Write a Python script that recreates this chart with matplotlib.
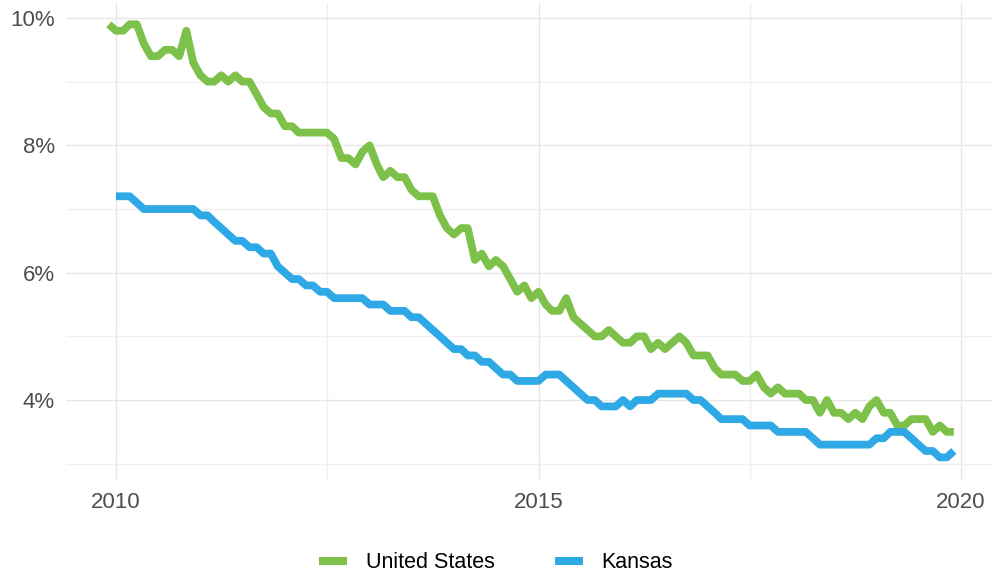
import matplotlib
matplotlib.use("Agg")
import matplotlib.pyplot as plt
from matplotlib.lines import Line2D
from matplotlib.ticker import MultipleLocator, FuncFormatter
import numpy as np
import pandas as pd

plt.rcParams['font.family'] = ['Liberation Sans', 'DejaVu Sans']

# monthly unemployment rate (%), US from Dec 2009, Kansas from Jan 2010
us_start = "2009-12-01"
us_rate = [
    9.9,
    9.8, 9.8, 9.9, 9.9, 9.6, 9.4, 9.4, 9.5, 9.5, 9.4, 9.8, 9.3,
    9.1, 9.0, 9.0, 9.1, 9.0, 9.1, 9.0, 9.0, 8.8, 8.6, 8.5, 8.5,
    8.3, 8.3, 8.2, 8.2, 8.2, 8.2, 8.2, 8.1, 7.8, 7.8, 7.7, 7.9,
    8.0, 7.7, 7.5, 7.6, 7.5, 7.5, 7.3, 7.2, 7.2, 7.2, 6.9, 6.7,
    6.6, 6.7, 6.7, 6.2, 6.3, 6.1, 6.2, 6.1, 5.9, 5.7, 5.8, 5.6,
    5.7, 5.5, 5.4, 5.4, 5.6, 5.3, 5.2, 5.1, 5.0, 5.0, 5.1, 5.0,
    4.9, 4.9, 5.0, 5.0, 4.8, 4.9, 4.8, 4.9, 5.0, 4.9, 4.7, 4.7,
    4.7, 4.5, 4.4, 4.4, 4.4, 4.3, 4.3, 4.4, 4.2, 4.1, 4.2, 4.1,
    4.1, 4.1, 4.0, 4.0, 3.8, 4.0, 3.8, 3.8, 3.7, 3.8, 3.7, 3.9,
    4.0, 3.8, 3.8, 3.6, 3.6, 3.7, 3.7, 3.7, 3.5, 3.6, 3.5, 3.5,
]
ks_start = "2010-01-01"
ks_rate = [
    7.2, 7.2, 7.2, 7.1, 7.0, 7.0, 7.0, 7.0, 7.0, 7.0, 7.0, 7.0,
    6.9, 6.9, 6.8, 6.7, 6.6, 6.5, 6.5, 6.4, 6.4, 6.3, 6.3, 6.1,
    6.0, 5.9, 5.9, 5.8, 5.8, 5.7, 5.7, 5.6, 5.6, 5.6, 5.6, 5.6,
    5.5, 5.5, 5.5, 5.4, 5.4, 5.4, 5.3, 5.3, 5.2, 5.1, 5.0, 4.9,
    4.8, 4.8, 4.7, 4.7, 4.6, 4.6, 4.5, 4.4, 4.4, 4.3, 4.3, 4.3,
    4.3, 4.4, 4.4, 4.4, 4.3, 4.2, 4.1, 4.0, 4.0, 3.9, 3.9, 3.9,
    4.0, 3.9, 4.0, 4.0, 4.0, 4.1, 4.1, 4.1, 4.1, 4.1, 4.0, 4.0,
    3.9, 3.8, 3.7, 3.7, 3.7, 3.7, 3.6, 3.6, 3.6, 3.6, 3.5, 3.5,
    3.5, 3.5, 3.5, 3.4, 3.3, 3.3, 3.3, 3.3, 3.3, 3.3, 3.3, 3.3,
    3.4, 3.4, 3.5, 3.5, 3.5, 3.4, 3.3, 3.2, 3.2, 3.1, 3.1, 3.2,
]
series_names = ["United States", "Kansas"]
colors = ["#7DC14B", "#2EA9E6"]

us_dates = pd.date_range(us_start, periods=len(us_rate), freq="MS")
ks_dates = pd.date_range(ks_start, periods=len(ks_rate), freq="MS")

fig = plt.figure(figsize=(9.92, 5.73), dpi=100)
ax = fig.add_axes([66 / 992, 1 - 479 / 573, 926 / 992, (479 - 2.7) / 573])

ax.plot(us_dates, us_rate, color=colors[0], lw=5.6, solid_joinstyle="round",
        solid_capstyle="butt", zorder=3)
ax.plot(ks_dates, ks_rate, color=colors[1], lw=5.6, solid_joinstyle="round",
        solid_capstyle="butt", zorder=3)

# x limits: 2010 at px 116, 2020 at px 961
t0 = pd.Timestamp("2010-01-01")
px_per_day = (961 - 116) / (pd.Timestamp("2020-01-01") - t0).days
ax.set_xlim(t0 - pd.Timedelta(days=50 / px_per_day),
            t0 + pd.Timedelta(days=(992 - 116) / px_per_day))
ax.set_ylim(2.76, 10.24)

major_x = [pd.Timestamp(f"{y}-01-01") for y in (2010, 2015, 2020)]
minor_x = [pd.Timestamp("2012-07-02"), pd.Timestamp("2017-07-02")]
ax.set_xticks(major_x)
ax.set_xticklabels(["2010", "2015", "2020"])
ax.set_xticks(minor_x, minor=True)
ax.yaxis.set_major_locator(MultipleLocator(2))
ax.yaxis.set_minor_locator(MultipleLocator(1))
ax.yaxis.set_major_formatter(FuncFormatter(lambda v, p: f"{v:.0f}%"))

ax.grid(True, which="major", color="#E6E6E6", lw=1.0)
ax.grid(True, which="minor", color="#EFEFEF", lw=0.9)
ax.set_axisbelow(True)
for s in ax.spines.values():
    s.set_visible(False)
ax.tick_params(which="both", length=0)
ax.tick_params(axis="x", labelsize=16, labelcolor="#4D4D4D", pad=9)
ax.tick_params(axis="y", labelsize=16, labelcolor="#4D4D4D", pad=8)

handles = [Line2D([0], [0], color=c, lw=5.8, solid_capstyle="butt") for c in colors]
fig.legend(handles, series_names, loc="center", bbox_to_anchor=(0.5, 1 - 563 / 573),
           ncol=2, frameon=False, fontsize=15.5, handlelength=1.3,
           handletextpad=0.85, columnspacing=2.8)

fig.savefig("out.png", dpi=100)
